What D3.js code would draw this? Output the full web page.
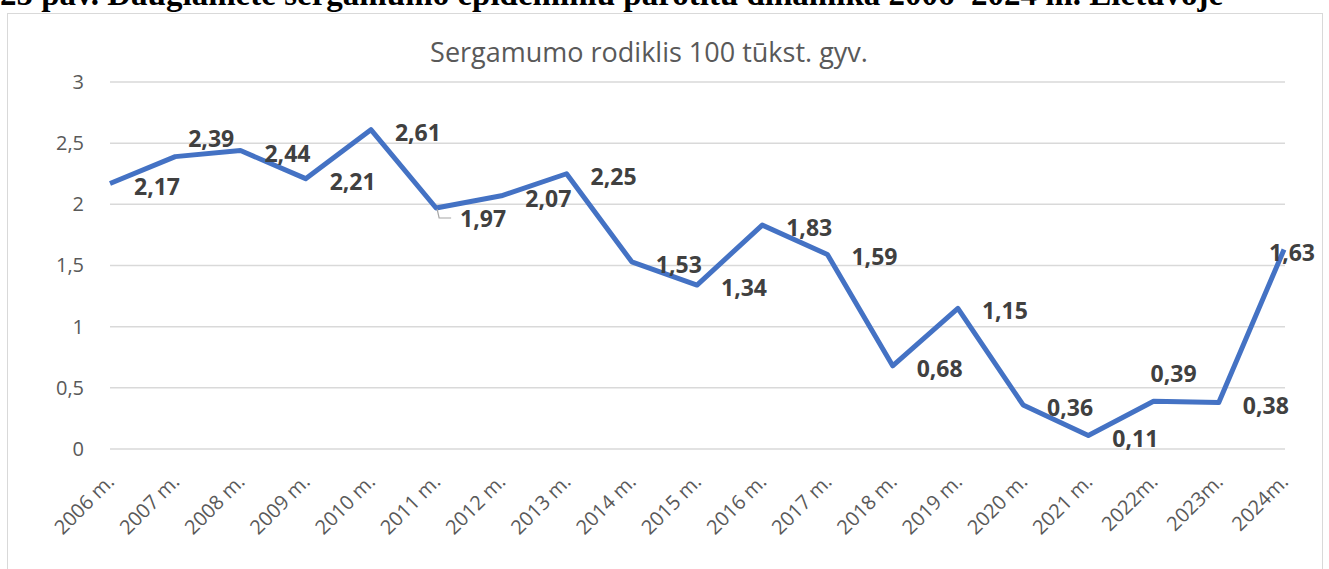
<!DOCTYPE html>
<html>
<head>
<meta charset="utf-8">
<script src="https://cdn.jsdelivr.net/npm/d3@7"></script>
<style>
  body { margin: 0; background: #fff; }
  svg { display: block; font-family: "Open Sans", sans-serif; }
</style>
</head>
<body>
<div id="chartContainer"></div>
<script>
var years = ["2006 m.", "2007 m.", "2008 m.", "2009 m.", "2010 m.", "2011 m.", "2012 m.",
  "2013 m.", "2014 m.", "2015 m.", "2016 m.", "2017 m.", "2018 m.", "2019 m.", "2020 m.",
  "2021 m.", "2022m.", "2023m.", "2024m."];
var rates = [2.17, 2.39, 2.44, 2.21, 2.61, 1.97, 2.07, 2.25, 1.53, 1.34, 1.83, 1.59,
  0.68, 1.15, 0.36, 0.11, 0.39, 0.38, 1.63];
var yTicks = [0, 0.5, 1, 1.5, 2, 2.5, 3];
var chartTitle = "Sergamumo rodiklis 100 tūkst. gyv.";
var caption = "25 pav. Daugiametė sergamumo epideminiu parotitu dinamika 2006–2024 m. Lietuvoje";

var width = 1329, height = 569;
var lt = d3.formatLocale({ decimal: ",", thousands: " ", grouping: [3], currency: ["", " €"] });

var svg = d3.select("#chartContainer")
  .append("svg")
  .attr("width", width)
  .attr("height", height);

// caption above the chart box (cut off at the top like the source)
svg.append("text")
  .attr("x", 0)
  .attr("y", 5)
  .attr("font-family", "Liberation Serif, serif")
  .attr("font-weight", "bold")
  .attr("font-size", 33)
  .attr("fill", "#000")
  .text(caption);

// chart area border
svg.append("rect")
  .attr("x", 7.5).attr("y", 13.5)
  .attr("width", 1315).attr("height", 600)
  .attr("fill", "#fff")
  .attr("stroke", "#d9d9d9");

var xScale = d3.scalePoint().domain(years).range([110, 1284]);
var yScale = d3.scaleLinear().domain([0, 3]).range([449, 82]);

// gridlines
svg.append("g")
  .selectAll("line")
  .data(yTicks)
  .enter().append("line")
  .attr("x1", 110).attr("x2", 1285)
  .attr("y1", function(d) { return yScale(d); })
  .attr("y2", function(d) { return yScale(d); })
  .attr("stroke", "#d9d9d9")
  .attr("stroke-width", 1.5);

// y axis
var yAxis = svg.append("g")
  .attr("transform", "translate(84,0)")
  .call(d3.axisLeft(yScale).tickValues(yTicks).tickSize(0).tickPadding(0).tickFormat(lt.format("~g")));
yAxis.select(".domain").remove();
yAxis.selectAll("text")
  .attr("font-family", "Open Sans, sans-serif")
  .attr("font-size", 20)
  .attr("fill", "#595959");

// x axis
var xAxis = svg.append("g")
  .attr("transform", "translate(0,449)")
  .call(d3.axisBottom(xScale).tickSize(0));
xAxis.select(".domain").remove();
xAxis.selectAll("text")
  .attr("font-family", "Open Sans, sans-serif")
  .attr("font-size", 20)
  .attr("fill", "#595959")
  .attr("text-anchor", "end")
  .attr("dy", 0)
  .attr("y", 0)
  .attr("transform", "translate(5,34) rotate(-45)");

// title
svg.append("text")
  .attr("x", 649)
  .attr("y", 62)
  .attr("text-anchor", "middle")
  .attr("font-size", 27)
  .attr("fill", "#595959")
  .text(chartTitle);

// line
var line = d3.line()
  .x(function(d, i) { return xScale(years[i]); })
  .y(function(d) { return yScale(d); });

svg.append("path")
  .datum(rates)
  .attr("d", line)
  .attr("fill", "none")
  .attr("stroke", "#4472c4")
  .attr("stroke-width", 5)
  .attr("stroke-linejoin", "round");

// data labels, mostly to the right of the point; a few moved by hand
var nudge = {
  "2007 m.": [36, -19],
  "2011 m.": [47, 10],
  "2022m.": [20, -28],
  "2024m.": [8, 2]
};
function off(i) { return nudge[years[i]] || [47, 2]; }

// leader line for the moved 2011 label
var i11 = years.indexOf("2011 m.");
var lx = xScale(years[i11]), ly = yScale(rates[i11]);
svg.append("path")
  .attr("d", "M" + (lx + 1) + "," + (ly + 1) + "L" + (lx + 3) + "," + (ly + 10) + "L" + (lx + 15) + "," + (ly + 10))
  .attr("fill", "none")
  .attr("stroke", "#a6a6a6")
  .attr("stroke-width", 1.2);

svg.append("g")
  .selectAll("text")
  .data(rates)
  .enter().append("text")
  .attr("x", function(d, i) { return xScale(years[i]) + off(i)[0]; })
  .attr("y", function(d, i) { return yScale(d) + off(i)[1]; })
  .attr("text-anchor", "middle")
  .attr("dominant-baseline", "central")
  .attr("font-size", 23)
  .attr("font-weight", "bold")
  .attr("fill", "#404040")
  .text(function(d) { return lt.format(".2f")(d); });
</script>
</body>
</html>
